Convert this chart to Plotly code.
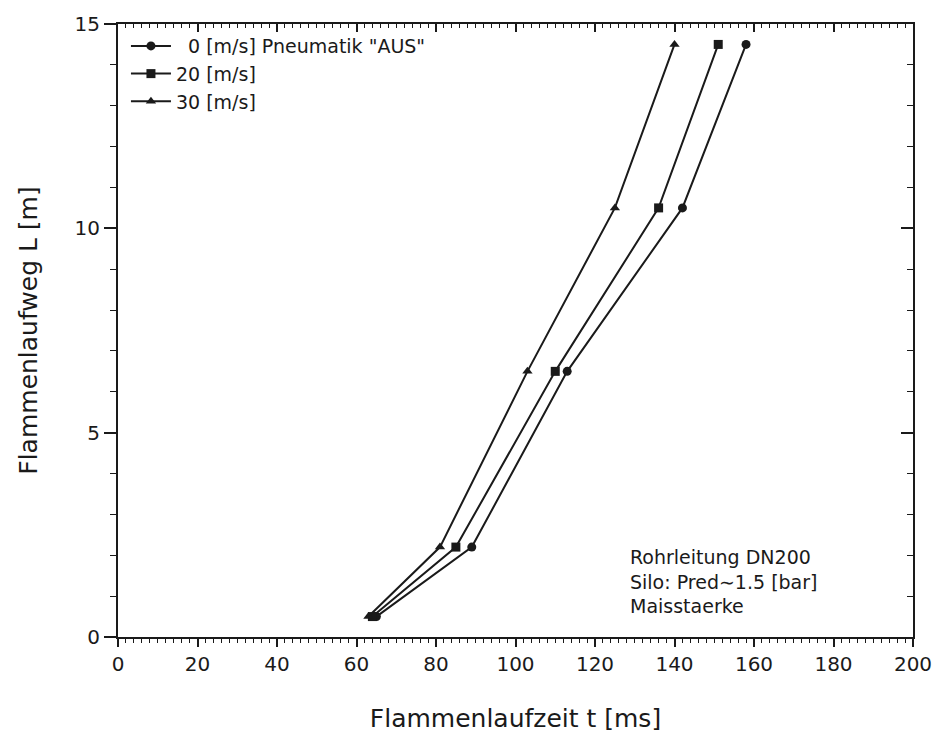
import plotly.graph_objects as go

# Data
L_pos = [0.5, 2.2, 6.5, 10.5, 14.5]
t_0 = [65, 89, 113, 142, 158]
t_20 = [64, 85, 110, 136, 151]
t_30 = [63, 81, 103, 125, 140]
series_names = ['  0 [m/s] Pneumatik "AUS"', '20 [m/s]', '30 [m/s]']
series_symbols = ['circle', 'square', 'triangle-up']
x_ticks = list(range(0, 201, 20))
y_ticks = [0, 5, 10, 15]

FONT = "DejaVu Sans"
INK = "#1a1a1a"

fig = go.Figure()
for name, t, sym in zip(series_names, [t_0, t_20, t_30], series_symbols):
    fig.add_trace(go.Scatter(
        x=t, y=L_pos, name=name, mode="lines+markers",
        line=dict(color=INK, width=2),
        marker=dict(symbol=sym, size=9, color=INK),
    ))

# invisible helper trace so the mirrored top/right axes (inside ticks) get drawn
fig.add_trace(go.Scatter(
    x=t_0[:1], y=L_pos[:1], xaxis="x2", yaxis="y2", mode="markers",
    marker=dict(opacity=0), showlegend=False, hoverinfo="skip",
))

fig.add_annotation(
    x=0.642, y=0.03, xref="paper", yref="paper", xanchor="left", yanchor="bottom",
    align="left", showarrow=False,
    text="Rohrleitung DN200<br>Silo: Pred∼1.5 [bar]<br>Maisstaerke",
    font=dict(family=FONT, size=19, color=INK),
)

axis_common = dict(showgrid=False, zeroline=False, showline=True,
                   linecolor=INK, linewidth=2, tickcolor=INK)

fig.update_layout(
    width=944, height=742,
    margin=dict(l=118, r=20, t=18, b=105),
    paper_bgcolor="white", plot_bgcolor="white",
    font=dict(family=FONT, color=INK, size=19),
    showlegend=True,
    legend=dict(x=0.01, y=0.995, xanchor="left", yanchor="top",
                bgcolor="rgba(0,0,0,0)", font=dict(size=19),
                itemwidth=40, tracegroupgap=0),
    xaxis=dict(
        range=[0, 200], tickvals=x_ticks, ticks="outside", ticklen=8, tickwidth=1.5,
        minor=dict(dtick=2, ticklen=4, ticks="outside", tickcolor=INK, tickwidth=1),
        title=dict(text="Flammenlaufzeit t [ms]", font=dict(size=25), standoff=34),
        tickfont=dict(size=20), **axis_common,
    ),
    yaxis=dict(
        range=[0, 15], tickvals=y_ticks, ticks="outside", ticklen=12, tickwidth=1.5,
        minor=dict(dtick=1, ticklen=6, ticks="outside", tickcolor=INK, tickwidth=1),
        title=dict(text="Flammenlaufweg L [m]", font=dict(size=25), standoff=30),
        tickfont=dict(size=20), **axis_common,
    ),
    xaxis2=dict(
        overlaying="x", side="top", anchor="y2", range=[0, 200], tickvals=x_ticks,
        ticks="inside", ticklen=8, tickwidth=1.5, showticklabels=False,
        minor=dict(dtick=2, ticklen=4, ticks="inside", tickcolor=INK, tickwidth=1),
        **axis_common,
    ),
    yaxis2=dict(
        overlaying="y", side="right", anchor="x2", range=[0, 15], tickvals=y_ticks,
        ticks="inside", ticklen=12, tickwidth=1.5, showticklabels=False,
        minor=dict(dtick=1, ticklen=6, ticks="inside", tickcolor=INK, tickwidth=1),
        **axis_common,
    ),
)

fig.write_html("out.html")
